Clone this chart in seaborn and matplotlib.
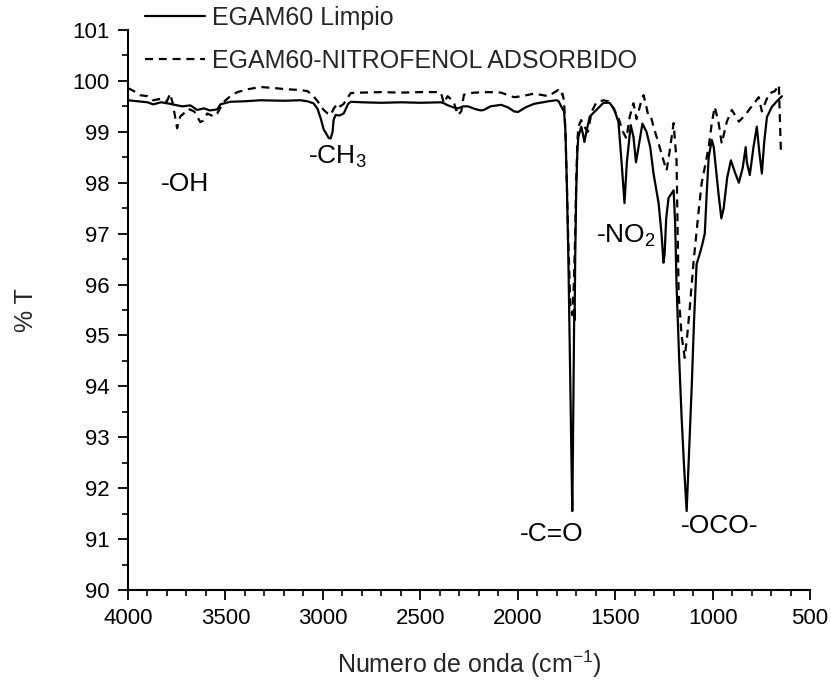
import matplotlib
matplotlib.use("Agg")
import matplotlib.pyplot as plt
from matplotlib.ticker import MultipleLocator
import seaborn as sns
import pandas as pd

# FTIR spectrum of the clean EGAM60 sample (wavenumber cm-1, %T)
limpio_wn = [4000, 3950, 3900, 3871, 3830, 3784, 3748, 3720, 3680, 3645, 3610, 3580,
             3542, 3526, 3475, 3400, 3321, 3200, 3115, 3079, 3048, 3027, 3010, 2996,
             2985, 2970, 2960, 2950, 2945, 2935, 2915, 2893, 2870, 2857, 2800, 2700,
             2600, 2500, 2394, 2379, 2358, 2330, 2307, 2280, 2255, 2220, 2190, 2173,
             2140, 2085, 2050, 2018, 1998, 1960, 1916, 1870, 1843, 1800, 1790, 1777,
             1762, 1755, 1748, 1740, 1732, 1725, 1720, 1716, 1712, 1710, 1708, 1705,
             1700, 1694, 1689, 1674, 1665, 1658, 1645, 1630, 1596, 1560, 1529, 1505,
             1483, 1465, 1452, 1440, 1420, 1406, 1393, 1380, 1360, 1339, 1320, 1303,
             1277, 1262, 1252, 1246, 1238, 1226, 1200, 1192, 1185, 1172, 1159, 1146,
             1133, 1120, 1107, 1095, 1082, 1066, 1052, 1040, 1030, 1020, 1004, 994,
             970, 955, 943, 925, 906, 885, 865, 845, 830, 824, 809, 790, 773, 760,
             747, 735, 721, 696, 670, 644]
limpio_t = [99.62, 99.60, 99.58, 99.54, 99.58, 99.55, 99.52, 99.50, 99.52, 99.43, 99.46, 99.42,
            99.44, 99.54, 99.59, 99.60, 99.62, 99.61, 99.62, 99.60, 99.56, 99.45, 99.25, 99.05,
            98.98, 98.88, 98.87, 99.00, 99.23, 99.33, 99.32, 99.36, 99.55, 99.59, 99.58, 99.57,
            99.58, 99.57, 99.58, 99.56, 99.52, 99.48, 99.46, 99.50, 99.50, 99.45, 99.42, 99.43,
            99.50, 99.53, 99.48, 99.40, 99.39, 99.48, 99.55, 99.58, 99.60, 99.62, 99.60, 99.50,
            99.40, 99.00, 98.00, 96.50, 94.50, 92.80, 91.55, 93.00, 94.80, 95.50, 95.30, 96.50,
            97.80, 98.60, 98.90, 99.10, 98.95, 98.80, 99.05, 99.30, 99.43, 99.57, 99.57, 99.45,
            99.19, 98.30, 97.60, 98.40, 99.13, 98.90, 98.40, 98.70, 99.16, 99.00, 98.70, 98.18,
            97.60, 97.00, 96.43, 96.60, 97.30, 97.70, 97.85, 97.20, 96.00, 94.60, 93.40, 92.40,
            91.55, 92.80, 94.00, 95.30, 96.40, 96.60, 96.80, 97.00, 97.80, 98.50, 98.84, 98.70,
            97.80, 97.30, 97.50, 98.10, 98.44, 98.20, 98.00, 98.30, 98.70, 98.40, 98.15, 98.70,
            99.10, 98.60, 98.18, 98.80, 99.29, 99.49, 99.60, 99.70]

# FTIR spectrum after 4-nitrophenol adsorption
nitro_wn = [4000, 3970, 3938, 3900, 3871, 3830, 3800, 3784, 3770, 3748, 3732, 3717,
            3690, 3660, 3629, 3614, 3593, 3560, 3542, 3511, 3475, 3439, 3380, 3321,
            3250, 3200, 3115, 3079, 3048, 3027, 2996, 2975, 2960, 2945, 2924, 2910,
            2893, 2857, 2800, 2700, 2600, 2500, 2420, 2394, 2379, 2360, 2330, 2307,
            2290, 2276, 2224, 2150, 2085, 2050, 2018, 1980, 1916, 1870, 1843, 1810,
            1792, 1780, 1770, 1762, 1755, 1748, 1740, 1730, 1720, 1712, 1705, 1700,
            1694, 1689, 1674, 1658, 1640, 1620, 1596, 1560, 1535, 1515, 1483, 1460,
            1442, 1425, 1406, 1390, 1365, 1354, 1340, 1329, 1315, 1303, 1277, 1252,
            1236, 1221, 1200, 1185, 1174, 1159, 1143, 1130, 1118, 1097, 1071, 1056,
            1035, 1020, 1004, 989, 970, 953, 927, 901, 865, 835, 799, 763, 747, 711,
            680, 660, 649]
nitro_t = [99.86, 99.80, 99.72, 99.70, 99.62, 99.65, 99.60, 99.75, 99.55, 99.07, 99.30, 99.35,
           99.45, 99.40, 99.19, 99.22, 99.36, 99.30, 99.36, 99.58, 99.70, 99.78, 99.84, 99.88,
           99.86, 99.84, 99.82, 99.80, 99.70, 99.60, 99.43, 99.36, 99.33, 99.45, 99.56, 99.50,
           99.55, 99.76, 99.77, 99.78, 99.77, 99.78, 99.78, 99.77, 99.56, 99.70, 99.60, 99.33,
           99.40, 99.73, 99.77, 99.78, 99.77, 99.72, 99.68, 99.70, 99.75, 99.72, 99.70, 99.78,
           99.82, 99.72, 99.75, 99.60, 99.00, 98.00, 96.80, 95.60, 95.40, 96.00, 97.00, 98.00,
           98.80, 99.10, 99.23, 99.10, 99.00, 99.40, 99.58, 99.62, 99.60, 99.50, 99.27, 99.00,
           98.87, 99.30, 99.56, 99.25, 99.62, 99.72, 99.50, 99.30, 99.28, 99.10, 98.77, 98.44,
           98.24, 98.60, 99.17, 98.44, 95.80, 95.00, 94.56, 95.00, 95.50, 96.47, 97.46, 97.99,
           98.40, 98.70, 99.17, 99.49, 99.20, 98.77, 99.20, 99.43, 99.20, 99.32, 99.50, 99.68,
           99.40, 99.75, 99.80, 99.92, 98.58]

series_names = ["EGAM60 Limpio", "EGAM60-NITROFENOL ADSORBIDO"]

# band assignments: (label, wavenumber, %T)
band_labels = ["-OH", "-CH$_3$", "-NO$_2$", "-C=O", "-OCO-"]
band_wn = [3707, 2925, 1445, 1828, 963]
band_t = [97.98, 98.5, 96.95, 91.1, 91.25]

sns.set_theme(style="ticks")
plt.rcParams["font.family"] = ["Liberation Sans", "DejaVu Sans"]
plt.rcParams["mathtext.fontset"] = "custom"
plt.rcParams["mathtext.rm"] = "Liberation Sans"
plt.rcParams["mathtext.default"] = "regular"

df_l = pd.DataFrame({"wn": limpio_wn, "T": limpio_t})
df_n = pd.DataFrame({"wn": nitro_wn, "T": nitro_t})

fig = plt.figure(figsize=(8.31, 6.86), dpi=100)
ax = fig.add_axes([128 / 831, 96 / 686, 682 / 831, 560 / 686])

sns.lineplot(data=df_l, x="wn", y="T", ax=ax, color="black", lw=1.6,
             sort=False, estimator=None, label=series_names[0])
sns.lineplot(data=df_n, x="wn", y="T", ax=ax, color="black", lw=1.6,
             sort=False, estimator=None, label=series_names[1])
ax.lines[1].set_linestyle((0, (3.6, 2.6)))

ax.set_xlim(4000, 500)
ax.set_ylim(90, 101)
ax.xaxis.set_major_locator(MultipleLocator(500))
ax.xaxis.set_minor_locator(MultipleLocator(100))
ax.yaxis.set_major_locator(MultipleLocator(1))
ax.yaxis.set_minor_locator(MultipleLocator(0.5))
for s in ["top", "right"]:
    ax.spines[s].set_visible(False)
for s in ["left", "bottom"]:
    ax.spines[s].set_linewidth(1.5)
    ax.spines[s].set_color("black")
ax.tick_params(which="major", length=7, width=1.3, labelsize=16, colors="black", pad=6)
ax.tick_params(which="minor", length=4, width=1.2, colors="black")

ax.set_xlabel("Numero de onda (cm$^{-1}$)", fontsize=18, labelpad=14)
ax.set_ylabel("% T", fontsize=18, labelpad=25)

for lab, x, y in zip(band_labels, band_wn, band_t):
    ax.text(x, y, lab, fontsize=19, ha="center", va="center", color="black")

leg = ax.legend(loc="upper left", bbox_to_anchor=(145 / 831, 680 / 686),
                bbox_transform=fig.transFigure, frameon=False, fontsize=18,
                handlelength=2.4, handletextpad=0.3, borderpad=0, borderaxespad=0,
                labelspacing=0.75)

fig.savefig("out.png", dpi=100, facecolor="white")
